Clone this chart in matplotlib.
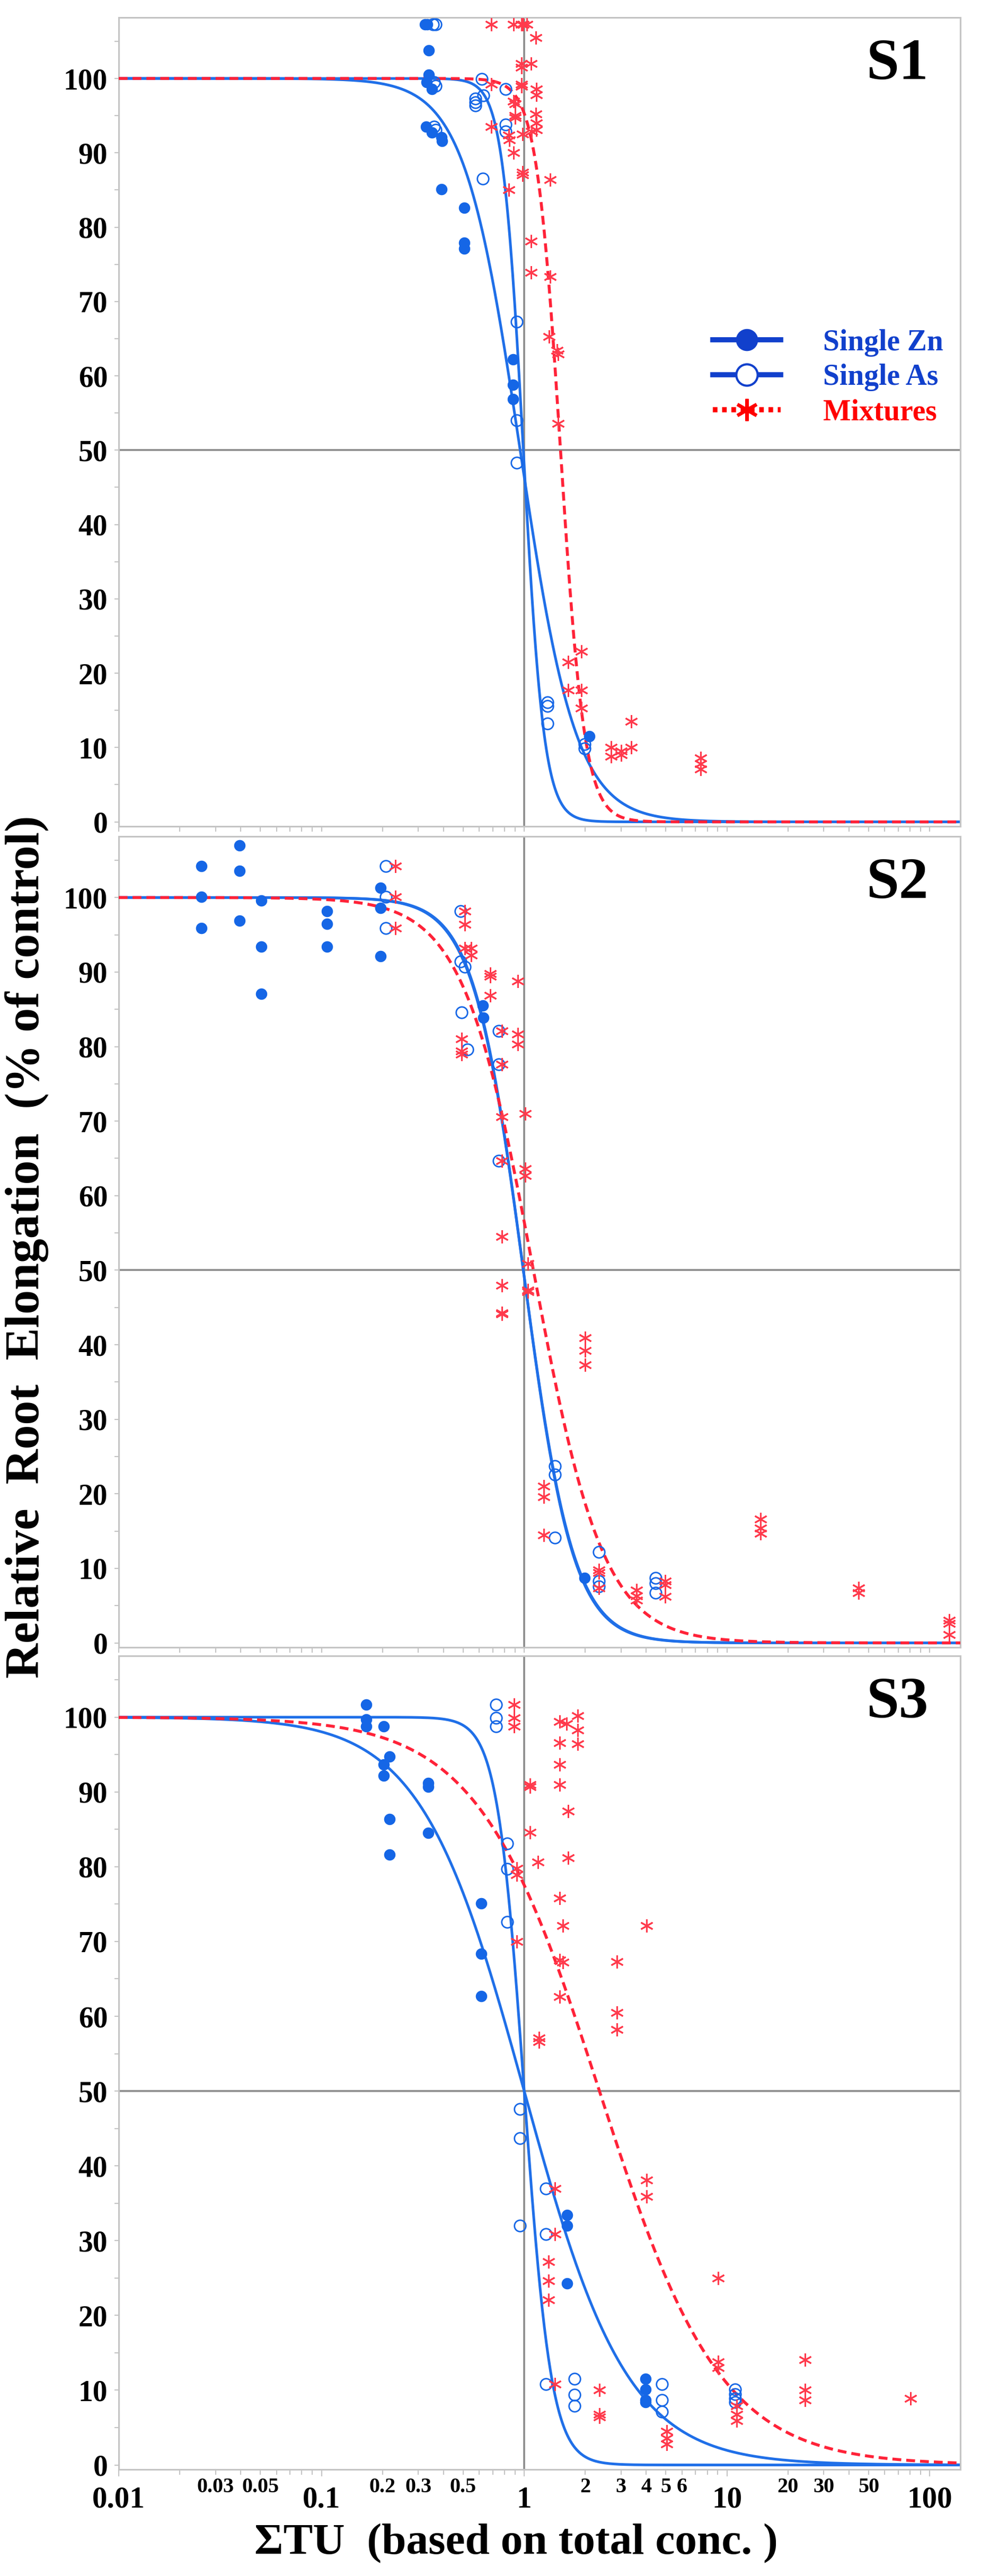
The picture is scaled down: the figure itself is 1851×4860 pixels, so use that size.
import numpy as np
import matplotlib
matplotlib.use("Agg")
import matplotlib.pyplot as plt
from matplotlib.lines import Line2D
from matplotlib.ticker import FixedLocator, FixedFormatter, NullFormatter

plt.rcParams['font.family'] = ['Liberation Serif', 'DejaVu Serif']
plt.rcParams['font.weight'] = 'bold'

# ---------------- data ----------------
panel_names = ["S1", "S2", "S3"]

# S1
zn1_x = [0.325, 0.333, 0.338, 0.338, 0.330, 0.350, 0.328, 0.350, 0.390, 0.392, 0.390,
         0.505, 0.505, 0.505, 0.880, 0.880, 0.880, 2.10]
zn1_y = [107.3, 107.3, 103.8, 100.5, 99.5, 98.6, 93.5, 92.7, 92.1, 91.6, 85.1,
         82.6, 77.9, 77.1, 62.2, 58.8, 56.9, 11.5]
as1_x = [0.355, 0.365, 0.360, 0.365, 0.360, 0.365, 0.618, 0.630, 0.576, 0.576, 0.576,
         0.810, 0.810, 0.810, 0.624, 0.918, 0.918, 0.918, 1.30, 1.30, 1.30, 1.99, 1.99]
as1_y = [107.3, 107.3, 99.5, 99.0, 93.5, 93.1, 99.9, 97.7, 97.3, 96.8, 96.4,
         98.6, 93.8, 92.9, 86.5, 67.3, 54.0, 48.3, 16.1, 15.6, 13.2, 10.45, 9.86]
mix1_x = [0.69, 0.887, 0.97, 0.99, 1.03, 1.14, 0.97, 0.97, 1.08, 0.69, 0.97, 0.97,
          1.15, 1.15, 0.887, 0.90, 0.90, 0.90, 1.14, 1.15, 1.15, 0.69, 0.84, 0.845,
          0.98, 1.09, 0.887, 0.98, 0.98, 1.34, 0.84, 1.08, 1.08, 1.34, 1.33, 1.45,
          1.47, 1.47, 1.65, 1.92, 1.65, 1.92, 1.92, 2.68, 2.68, 3.01, 3.01, 3.38,
          3.38, 7.4, 7.4, 7.4]
mix1_y = [107.3, 107.3, 107.3, 107.3, 107.3, 105.5, 102.0, 101.5, 102.0, 99.2, 99.2, 98.9,
          98.6, 97.8, 96.9, 96.6, 95.0, 94.7, 95.2, 94.0, 93.1, 93.5, 92.4, 91.7,
          92.5, 92.9, 90.0, 87.4, 87.0, 86.4, 85.0, 78.1, 73.9, 73.3, 65.3, 63.4,
          62.9, 53.6, 21.5, 22.9, 17.7, 17.7, 15.3, 10.0, 8.8, 9.5, 9.0, 10.0,
          13.5, 8.6, 7.8, 7.1]

# S2
zn2_x = [0.0255, 0.0255, 0.0255, 0.0394, 0.0394, 0.0394, 0.0506, 0.0506, 0.0506,
         0.1066, 0.1066, 0.1066, 0.196, 0.196, 0.196, 0.624, 0.630, 1.99]
zn2_y = [104.2, 100.1, 95.9, 107.0, 103.6, 96.9, 99.6, 93.4, 87.1,
         98.2, 96.5, 93.4, 101.3, 98.6, 92.1, 85.5, 83.9, 8.7]
as2_x = [0.208, 0.208, 0.208, 0.486, 0.486, 0.51, 0.49, 0.526, 0.748, 0.748, 0.748,
         1.42, 1.42, 1.42, 2.33, 2.33, 2.33, 4.45, 4.45, 4.45]
as2_y = [104.2, 100.1, 95.9, 98.2, 91.4, 90.7, 84.6, 79.6, 82.1, 77.6, 64.7,
         23.7, 22.6, 14.1, 12.2, 8.3, 7.6, 8.7, 8.0, 6.7]
mix2_x = [0.231, 0.231, 0.231, 0.51, 0.51, 0.51, 0.548, 0.548, 0.68, 0.68, 0.68, 0.93,
          0.49, 0.49, 0.49, 0.778, 0.93, 0.93, 0.778, 0.778, 0.778, 0.778, 0.778, 0.778,
          0.778, 1.01, 1.01, 1.01, 1.04, 1.04, 1.04, 1.25, 1.25, 1.25, 2.0, 2.0, 2.0,
          2.33, 2.33, 2.33, 3.59, 3.59, 3.59, 4.96, 4.96, 4.96, 14.6, 14.6, 14.6,
          44.5, 44.5, 124.7, 124.7, 124.7]
mix2_y = [104.2, 100.1, 95.9, 98.2, 96.4, 93.2, 93.2, 92.3, 89.8, 89.4, 86.9, 88.8,
          81.0, 79.4, 79.0, 82.1, 81.7, 80.3, 77.6, 70.6, 64.7, 54.5, 48.0, 44.3,
          44.1, 71.0, 63.6, 62.7, 50.9, 47.3, 47.1, 21.0, 19.6, 14.5, 40.9, 39.2, 37.3,
          9.8, 9.4, 7.4, 7.1, 6.3, 5.7, 8.3, 7.8, 6.2, 16.6, 15.4, 14.7,
          7.4, 6.7, 3.0, 2.6, 1.1]

# S3
zn3_x = [0.166, 0.166, 0.166, 0.203, 0.203, 0.203, 0.217, 0.217, 0.217,
         0.336, 0.336, 0.336, 0.614, 0.614, 0.614, 1.63, 1.63, 1.63, 3.97, 3.97, 3.97, 3.97]
zn3_y = [101.7, 99.7, 98.8, 98.8, 93.7, 92.2, 94.7, 86.4, 81.6,
         91.2, 90.7, 84.5, 75.1, 68.4, 62.7, 33.4, 32.0, 24.3, 11.5, 10.1, 8.7, 8.4]
as3_x = [0.727, 0.727, 0.727, 0.826, 0.826, 0.826, 0.955, 0.955, 0.955, 1.28, 1.28, 1.28,
         1.77, 1.77, 1.77, 4.77, 4.77, 4.77, 11.0, 11.0, 11.0, 11.0]
as3_y = [101.7, 99.9, 98.8, 83.1, 79.7, 72.6, 47.6, 43.7, 32.0, 37.0, 30.9, 10.8,
         11.5, 9.4, 7.9, 10.8, 8.7, 7.1, 10.1, 9.5, 8.9, 8.4]
mix3_x = [0.89, 0.89, 0.89, 1.07, 1.07, 1.07, 1.17, 0.92, 0.92, 0.92, 1.18, 1.18,
          1.50, 1.50, 1.50, 1.50, 1.50, 1.50, 1.50, 1.62, 1.84, 1.84, 1.84, 1.65, 1.65,
          1.55, 1.55, 2.87, 2.87, 2.87, 4.02, 4.02, 4.02, 1.42, 1.42, 1.42, 1.32, 1.32, 1.32,
          2.35, 2.35, 2.35, 5.06, 5.06, 5.06, 9.04, 9.04, 9.04, 11.2, 11.2, 11.2,
          24.3, 24.3, 24.3, 80.2]
mix3_y = [101.7, 99.9, 98.8, 91.0, 90.7, 84.6, 80.6, 79.8, 78.9, 70.0, 57.1, 56.6,
          99.4, 96.6, 93.7, 91.0, 75.8, 67.5, 62.6, 99.1, 100.2, 98.3, 96.4, 87.4, 81.2,
          72.1, 67.2, 67.3, 60.5, 58.2, 72.1, 38.1, 35.9, 37.0, 30.9, 10.8, 27.2, 24.6, 22.1,
          10.0, 6.8, 6.4, 4.5, 3.6, 2.8, 25.0, 13.8, 13.0, 7.9, 6.8, 5.9,
          14.1, 10.0, 8.7, 8.9]

# fitted log-logistic curve parameters (EC50 in TU, slope), per panel S1..S3
ec50_zn = [0.955, 0.99, 1.00]
slope_zn = [3.15, 3.50, 1.70]
ec50_as = [0.99, 0.99, 1.00]
slope_as = [8.5, 3.55, 6.5]
ec50_mix = [1.51, 1.11, 2.35]
slope_mix = [7.3, 2.5, 1.45]

major_x_ticks = [0.01, 0.1, 1, 10, 100]
major_x_labels = ["0.01", "0.1", "1", "10", "100"]
minor_x_labeled = [0.03, 0.05, 0.2, 0.3, 0.5, 2, 3, 4, 5, 6, 20, 30, 50]
minor_x_label_text = ["0.03", "0.05", "0.2", "0.3", "0.5", "2", "3", "4", "5", "6", "20", "30", "50"]

legend_labels = ["Single Zn", "Single As", "Mixtures"]

# ---------------- styling ----------------
BLUE_LINE = "#1f6fe8"
BLUE_PT = "#1566e6"
RED_LINE = "#ff2238"
RED_PT = "#ff3a4c"
LEG_BLUE = "#1140cc"
LEG_RED = "#ff0000"
GRID_GRAY = "#8c8c8c"
SPINE_GRAY = "#c4c4c4"
ASTER = (6, 2, 0)

XMIN, XMAX = 0.01, 141.6
YMIN, YMAX = -0.6, 108.2

def loglogistic(x, ec50, b):
    return 100.0 / (1.0 + (x / ec50) ** b)

fig = plt.figure(figsize=(18.51, 48.60), dpi=100)

W, H = 1851.0, 4860.0
left = 224 / W
width = 1588 / W
panel_px = [(33, 1559), (1578, 3108), (3124, 4659)]

data = [
    (zn1_x, zn1_y, as1_x, as1_y, mix1_x, mix1_y),
    (zn2_x, zn2_y, as2_x, as2_y, mix2_x, mix2_y),
    (zn3_x, zn3_y, as3_x, as3_y, mix3_x, mix3_y),
]

xs = np.logspace(np.log10(XMIN), np.log10(XMAX), 800)
axes = []
for i, (top, bot) in enumerate(panel_px):
    ax = fig.add_axes([left, 1 - bot / H, width, (bot - top) / H])
    axes.append(ax)
    zx, zy, ax_, ay_, mx, my = data[i]
    ax.set_xscale('log')
    ax.set_xlim(XMIN, XMAX)
    ax.set_ylim(YMIN, YMAX)

    ax.axhline(50, color=GRID_GRAY, lw=2.6, zorder=1)
    ax.axvline(1, color=GRID_GRAY, lw=2.6, zorder=1)

    ax.plot(xs, loglogistic(xs, ec50_zn[i], slope_zn[i]), color=BLUE_LINE, lw=3.6, zorder=2)
    ax.plot(xs, loglogistic(xs, ec50_as[i], slope_as[i]), color=BLUE_LINE, lw=3.6, zorder=2)
    ax.plot(xs, loglogistic(xs, ec50_mix[i], slope_mix[i]), color=RED_LINE, lw=4.0,
            dashes=(3.0, 1.7), zorder=3)

    ax.plot(zx, zy, 'o', ms=15.5, color=BLUE_PT, mec=BLUE_PT, mew=0, zorder=5)
    ax.plot(ax_, ay_, 'o', ms=15.5, mfc='none', mec=BLUE_PT, mew=2.0, zorder=5)
    ax.plot(mx, my, ls='none', marker=ASTER, ms=18, mec=RED_PT, mew=2.1, zorder=6)

    for s in ax.spines.values():
        s.set_color(SPINE_GRAY)
        s.set_linewidth(2.2)

    ax.yaxis.set_major_locator(FixedLocator(list(range(0, 101, 10))))
    ax.yaxis.set_minor_locator(FixedLocator(list(range(5, 106, 10))))
    ax.set_yticklabels([str(v) for v in range(0, 101, 10)])
    ax.tick_params(axis='y', which='both', direction='out', length=6, width=1.5,
                   color=SPINE_GRAY, labelsize=40, pad=9)

    ax.xaxis.set_major_locator(FixedLocator(major_x_ticks))
    minors = [m * d for d in [0.01, 0.1, 1, 10, 100] for m in range(2, 10) if m * d <= XMAX]
    ax.xaxis.set_minor_locator(FixedLocator(minors))
    ax.tick_params(axis='x', which='both', direction='out', length=7, width=1.5,
                   color=SPINE_GRAY)
    if i < 2:
        ax.xaxis.set_major_formatter(NullFormatter())
        ax.xaxis.set_minor_formatter(NullFormatter())
    else:
        ax.xaxis.set_major_formatter(FixedFormatter(major_x_labels))
        minor_labels = []
        for m in minors:
            lab = ""
            for v, t in zip(minor_x_labeled, minor_x_label_text):
                if abs(m - v) / v < 1e-6:
                    lab = t
            minor_labels.append(lab)
        ax.xaxis.set_minor_formatter(FixedFormatter(minor_labels))
        ax.tick_params(axis='x', which='major', labelsize=41, pad=14, length=9)
        ax.tick_params(axis='x', which='minor', labelsize=29, pad=4)

    ax.text(0.925, 0.942, panel_names[i], transform=ax.transAxes, ha='center', va='center',
            fontsize=80, fontweight='bold', color='black')

# legend in S1
ax0 = axes[0]
handles = [
    Line2D([], [], color=LEG_BLUE, lw=7, marker='o', ms=29, mfc=LEG_BLUE, mec=LEG_BLUE),
    Line2D([], [], color=LEG_BLUE, lw=7, marker='o', ms=29, mfc='white', mec=LEG_BLUE, mew=3),
    Line2D([], [], color=LEG_RED, lw=7, ls=(0, (0.9, 0.9)), marker=ASTER, ms=30,
           mec=LEG_RED, mew=4.5),
]
leg = ax0.legend(handles, legend_labels, loc='upper left', bbox_to_anchor=(0.706, 0.615),
                 frameon=False, fontsize=40, handlelength=2.3, handletextpad=1.45,
                 labelspacing=0.25, borderpad=0, borderaxespad=0)
for t, c in zip(leg.get_texts(), [LEG_BLUE, LEG_BLUE, LEG_RED]):
    t.set_color(c)
    t.set_fontweight('bold')

fig.text(0.027, 0.516, "Relative  Root  Elongation  (% of control)", rotation=90,
         ha='center', va='center', fontsize=66, fontweight='bold')
fig.text(0.526, 0.0125, "\u03a3TU  (based on total conc. )", ha='center', va='center',
         fontsize=60, fontweight='bold')

fig.savefig('out.png', dpi=100)
